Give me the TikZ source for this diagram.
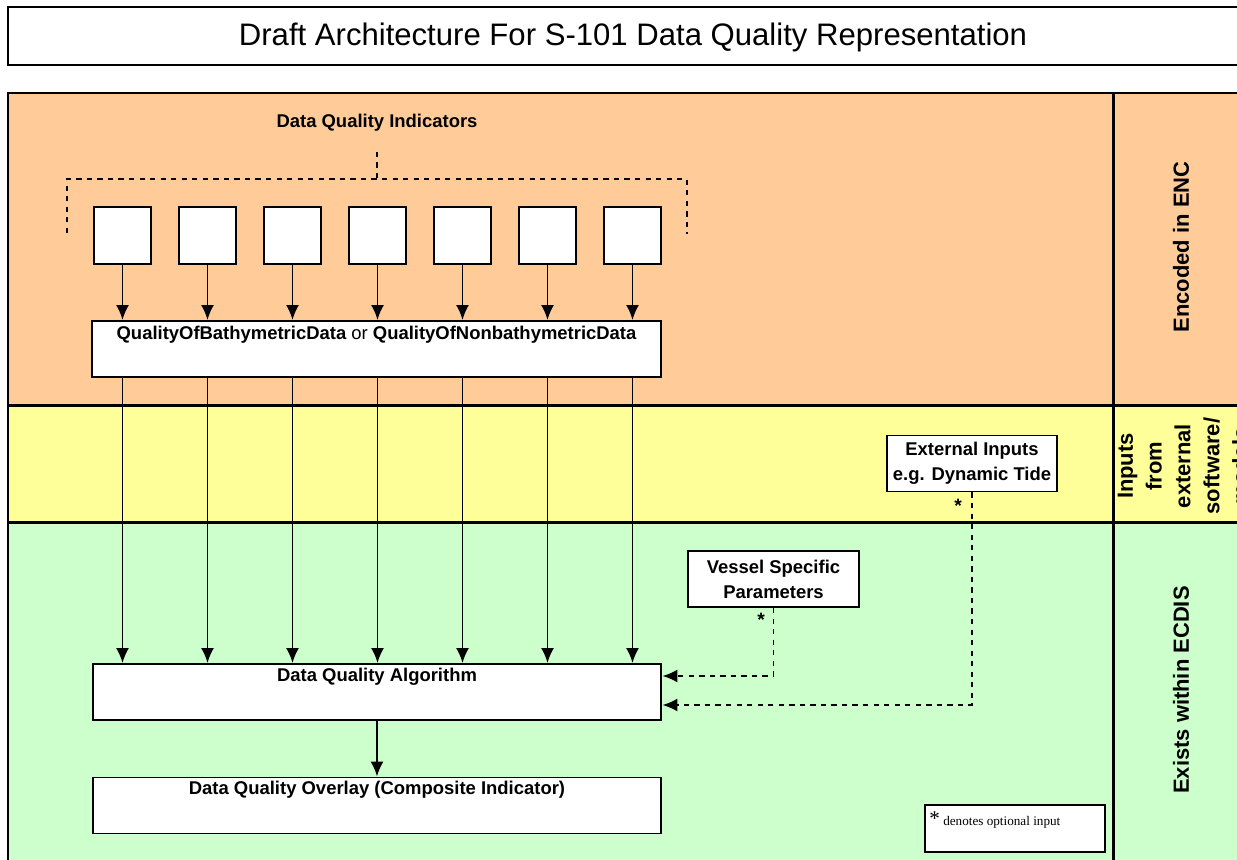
\documentclass[tikz,border=0pt]{standalone}
\usepackage{fontspec}
\setmainfont{Liberation Sans}
\newfontfamily\legendfont{Liberation Serif}
\usetikzlibrary{arrows.meta,positioning}
\tikzset{>={Latex[width=2.6mm,length=3mm]}}
\definecolor{encorange}{RGB}{255,204,153}
\definecolor{inputyellow}{RGB}{255,255,153}
\definecolor{ecdisgreen}{RGB}{204,255,204}
\tikzset{
  frame/.style={line width=1.7pt},
  box/.style={draw,fill=white,line width=1.1pt,inner sep=0pt},
  indbox/.style={box,minimum width=1.14cm,minimum height=1.14cm},
  widebox/.style={box,minimum width=11.38cm,minimum height=1.12cm},
  inbox/.style={box,minimum width=3.4cm,minimum height=1.12cm,align=center,font=\fontsize{10.5}{14.2}\selectfont\bfseries},
  lbl/.style={font=\fontsize{10.5}{14.2}\selectfont\bfseries,inner sep=0pt},
  side/.style={font=\fontsize{12.5}{16.4}\selectfont\bfseries,rotate=90,align=center,inner sep=0pt},
  star/.style={font=\fontsize{11}{11}\selectfont\bfseries,inner sep=0pt},
  feed/.style={->,line width=1.1pt},
  opt/.style={->,dashed,line width=1.1pt},
  bracket/.style={dashed,line width=1.1pt}
}

\begin{document}
\begin{tikzpicture}[x=0.02cm,y=-0.02cm]
		\clip (0,0) rectangle (1237,859);
		\fill[white] (0,0) rectangle (1237,859);
		% title
		\draw[frame] (8,7) rectangle (1260,65);
		\node[font=\fontsize{17.7}{20}\selectfont] (title) at (633,37) {Draft Architecture For S-101 Data Quality Representation};
		% bands
		\fill[encorange]    (8,93)  rectangle (1260,405);
		\fill[inputyellow]  (8,405) rectangle (1260,522);
		\fill[ecdisgreen]   (8,522) rectangle (1260,880);
		\draw[frame] (8,93) rectangle (1260,880);
		\draw[frame] (8,405) -- (1260,405);
		\draw[frame] (8,522) -- (1260,522);
		\draw[frame] (1113,93) -- (1113,880);
		% side labels
		\node[side] (encside)   at (1181,247) {Encoded in ENC};
		\node[side] (inpside)   at (1183,466) {Inputs\\from\\external\\software/\\models};
		\node[side] (ecdisside) at (1181,690) {Exists within ECDIS};
		% indicators and bracket
		\node[lbl] (dqi) at (377,123) {Data Quality Indicators};
		\coordinate (brace) at (377,179);
		\draw[bracket] (67,233) -- (67,179) -- (687,179) -- (687,234);
		\draw[bracket] ([yshift=-0.4cm]dqi.south) -- (dqi.south |- brace);
		\node[indbox] (i1) at (122.5,235.5) {};
		\node[indbox] (i2) at (207.5,235.5) {};
		\node[indbox] (i3) at (292.5,235.5) {};
		\node[indbox] (i4) at (377.5,235.5) {};
		\node[indbox] (i5) at (462.5,235.5) {};
		\node[indbox] (i6) at (547.5,235.5) {};
		\node[indbox] (i7) at (632.5,235.5) {};
		% quality feature
		\node[widebox] (qual) at (376.5,349) {};
		\node[lbl,below=0.11cm of qual.north] (qualtext) {QualityOfBathymetricData {\mdseries or} QualityOfNonbathymetricData};
		\draw[feed] (i1) -- (qual.north -| i1);
		\draw[feed] (i2) -- (qual.north -| i2);
		\draw[feed] (i3) -- (qual.north -| i3);
		\draw[feed] (i4) -- (qual.north -| i4);
		\draw[feed] (i5) -- (qual.north -| i5);
		\draw[feed] (i6) -- (qual.north -| i6);
		\draw[feed] (i7) -- (qual.north -| i7);
		% algorithm and overlay
		\node[widebox] (alg) at (377,692) {};
		\node[lbl,below=0.1cm of alg.north] (algtext) {Data Quality Algorithm};
		\node[widebox] (ovl) at (377,805.5) {};
		\node[lbl,below=0.08cm of ovl.north] (ovltext) {Data Quality Overlay (Composite Indicator)};
		\draw[feed] (qual.south -| i1) -- (alg.north -| i1);
		\draw[feed] (qual.south -| i2) -- (alg.north -| i2);
		\draw[feed] (qual.south -| i3) -- (alg.north -| i3);
		\draw[feed] (qual.south -| i4) -- (alg.north -| i4);
		\draw[feed] (qual.south -| i5) -- (alg.north -| i5);
		\draw[feed] (qual.south -| i6) -- (alg.north -| i6);
		\draw[feed] (qual.south -| i7) -- (alg.north -| i7);
		\draw[feed] (alg) -- (ovl);
		% optional inputs
		\node[inbox,minimum width=3.42cm] (vsp) at (773.5,579) {Vessel Specific\\Parameters};
		\node[inbox] (exti) at (972,463.5) {External Inputs\\e.g. Dynamic Tide};
		\node[star] (vspstar) at (761,620) {*};
		\node[star] (extstar) at (958,506) {*};
		\draw[opt] (vsp.south) |- ([yshift=0.32cm]alg.east);
		\draw[opt] (exti.south) |- ([yshift=-0.26cm]alg.east);
		% legend
		\node[box,minimum width=3.6cm,minimum height=0.94cm] (legend) at (1015,828.5) {};
		\node[anchor=north west,inner sep=0pt,font=\legendfont\fontsize{7.5}{9}\selectfont] (legendtext) at ([xshift=0.1cm,yshift=-0.14cm]legend.north west) {{\fontsize{12}{12}\selectfont *} denotes optional input};
	\end{tikzpicture}
\end{document}
